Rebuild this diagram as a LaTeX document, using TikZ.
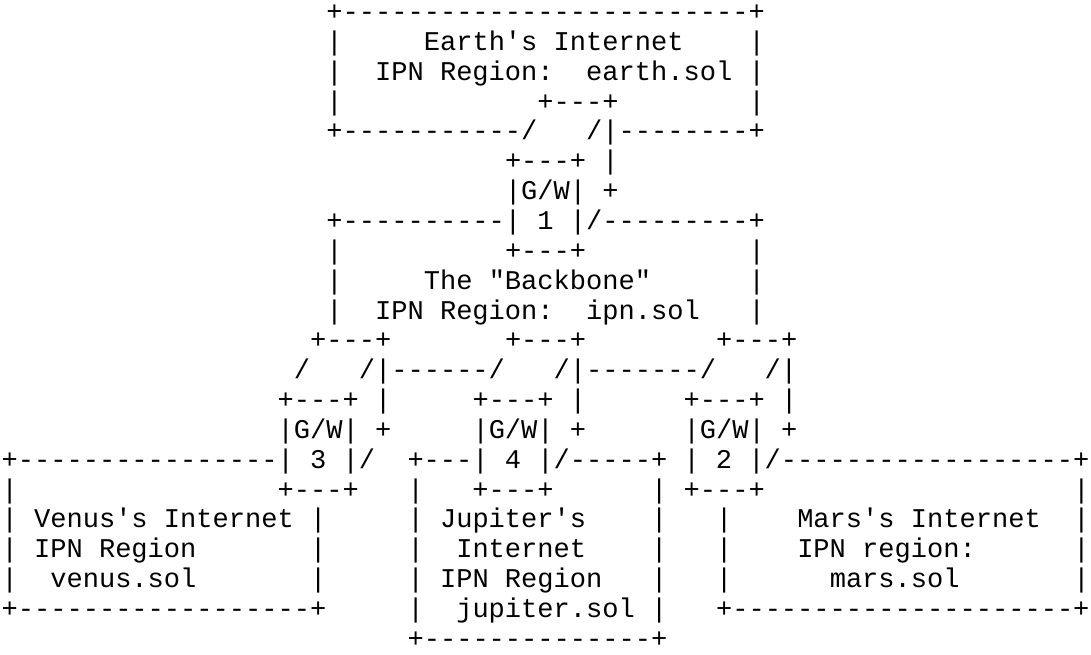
\documentclass[tikz,border=0pt]{standalone}
\usepackage{fontspec}
\setmonofont{Liberation Mono}
\usepackage{tikz}
\usetikzlibrary{positioning}
\newcommand{\gap}[1]{\hspace*{#1\fontcharwd\font`\+}}

\begin{document}
\begin{tikzpicture}[y=-14.92pt]

\tikzset{
    asc/.style={font=\ttfamily\fontsize{13.53pt}{15pt}\selectfont,
      inner sep=0pt, outer sep=0pt, anchor=base west},
}
  \useasboundingbox (-0.8pt,-4.62pt) rectangle (544.7pt,-331.62pt);

  % earth region
  \node [asc] (r1) at (0,1) {\gap{20}+-------------------------+};
  \node [asc] (r2) at (0,2) {\gap{20}|\gap{5}Earth's Internet\gap{4}|};
  \node [asc] (r3) at (0,3) {\gap{20}|\gap{2}IPN Region:\gap{2}earth.sol |};
  \node [asc] (r4) at (0,4) {\gap{20}|\gap{12}+---+\gap{8}|};
  \node [asc] (r5) at (0,5) {\gap{20}+-----------/\gap{3}/|--------+};

  % gateway 1
  \node [asc] (r6) at (0,6) {\gap{31}+---+ |};
  \node [asc] (r7) at (0,7) {\gap{31}|G/W| +};

  % backbone
  \node [asc] (r8) at (0,8) {\gap{20}+----------| 1 |/---------+};
  \node [asc] (r9) at (0,9) {\gap{20}|\gap{10}+---+\gap{10}|};
  \node [asc] (r10) at (0,10) {\gap{20}|\gap{5}The "Backbone"\gap{6}|};
  \node [asc] (r11) at (0,11) {\gap{20}|\gap{2}IPN Region:\gap{2}ipn.sol\gap{3}|};

  % gateways 3, 4, 2
  \node [asc] (r12) at (0,12) {\gap{19}+---+\gap{7}+---+\gap{8}+---+};
  \node [asc] (r13) at (0,13) {\gap{18}/\gap{3}/|------/\gap{3}/|-------/\gap{3}/|};
  \node [asc] (r14) at (0,14) {\gap{17}+---+ |\gap{5}+---+ |\gap{6}+---+ |};
  \node [asc] (r15) at (0,15) {\gap{17}|G/W| +\gap{5}|G/W| +\gap{6}|G/W| +};
  \node [asc] (r16) at (0,16) {+----------------| 3 |/\gap{2}+---| 4 |/-----+ | 2 |/------------------+};
  \node [asc] (r17) at (0,17) {|\gap{16}+---+\gap{3}|\gap{3}+---+\gap{6}| +---+\gap{19}|};

  % venus, jupiter, mars regions
  \node [asc] (r18) at (0,18) {| Venus's Internet |\gap{5}| Jupiter's\gap{4}|\gap{3}|\gap{4}Mars's Internet\gap{2}|};
  \node [asc] (r19) at (0,19) {| IPN Region\gap{7}|\gap{5}|\gap{2}Internet\gap{4}|\gap{3}|\gap{4}IPN region:\gap{6}|};
  \node [asc] (r20) at (0,20) {|\gap{2}venus.sol\gap{7}|\gap{5}| IPN Region\gap{3}|\gap{3}|\gap{6}mars.sol\gap{7}|};
  \node [asc] (r21) at (0,21) {+------------------+\gap{5}|\gap{2}jupiter.sol |\gap{3}+---------------------+};
  \node [asc] (r22) at (0,22) {\gap{25}+--------------+};

\end{tikzpicture}
\end{document}
